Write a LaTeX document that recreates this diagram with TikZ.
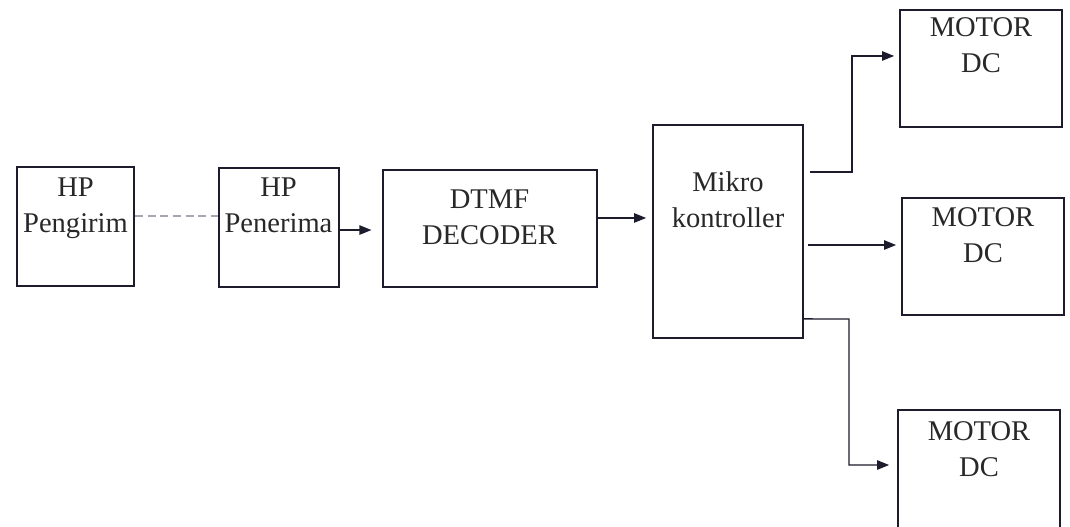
\documentclass[tikz,border=0pt]{standalone}
\usepackage{fontspec}
\setmainfont{Liberation Serif}
\usetikzlibrary{arrows.meta}
\definecolor{ink}{RGB}{28,28,44}
\definecolor{txt}{RGB}{40,40,40}
\definecolor{dashgray}{RGB}{165,168,178}
\tikzset{
  box/.style={draw=ink, line width=1.3pt, inner sep=0pt, fill=none},
  lbl/.style={anchor=north, inner sep=0pt, align=center, text=txt,
              font=\fontsize{21.4}{27}\selectfont},
  conn/.style={draw=ink, line width=1.1pt},
  arr/.style={conn, -{Triangle[length=9pt,width=7pt]}},
  wireless/.style={draw=dashgray, line width=1.3pt, dash pattern=on 6pt off 3.5pt}
}
\begin{document}
\begin{tikzpicture}[x=0.75pt,y=-0.75pt]
\useasboundingbox (0,0) rectangle (1070,526);
\clip (0,0) rectangle (1070,526);
\fill[white] (0,0) rectangle (1070,526);
% boxes
\node[box, minimum width=87.75pt, minimum height=89.25pt] (A) at (75.5,226.5) {};
\node[box, minimum width=90pt, minimum height=89.25pt] (B) at (279,227.5) {};
\node[box, minimum width=160.5pt, minimum height=87.75pt] (C) at (490,228.5) {};
\node[box, minimum width=112.5pt, minimum height=159.75pt] (D) at (728,231.5) {};
\node[box, minimum width=121.5pt, minimum height=87.75pt] (E) at (981,68.5) {};
\node[box, minimum width=121.5pt, minimum height=87.75pt] (F) at (983,256.5) {};
\node[box, minimum width=121.5pt, minimum height=90pt] (G) at (979,470) {};
% labels
\node[lbl] (tA) at (75.5,178) {HP\\Pengirim};
\node[lbl] (tB) at (278.5,178) {HP\\Penerima};
\node[lbl] (tC) at (489.5,190) {DTMF\\DECODER};
\node[lbl] (tD) at (728,171) {Mikro\\kontroller};
\node[lbl] (tE) at (981,17) {MOTOR\\DC};
\node[lbl] (tF) at (983,207) {MOTOR\\DC};
\node[lbl] (tG) at (979,421) {MOTOR\\DC};
% connectors
\draw[wireless] ([yshift=7.9pt]A.east) -- ([yshift=7.9pt]A.east -| B.west);
\draw[arr, shorten >=8pt] ([yshift=-1.9pt]B.east) -- ([yshift=-1.9pt]B.east -| C.west);
\draw[arr, shorten >=4.5pt] ([yshift=7.9pt]C.east) -- ([yshift=7.9pt]C.east -| D.west);
\coordinate (s1) at (810,172);
\coordinate (b1) at (852,172);
\draw[arr, shorten >=3.75pt] (s1) -- (b1) |- ([yshift=9.4pt]E.west);
\coordinate (s2) at (808,245);
\draw[arr, shorten >=3.75pt] (s2) -- (s2 -| F.west);
\coordinate (b3) at (849,319);
\draw[arr, shorten >=6pt] ([yshift=-65.6pt]D.east) -- (b3) |- ([yshift=3.75pt]G.west);
\end{tikzpicture}
\end{document}
